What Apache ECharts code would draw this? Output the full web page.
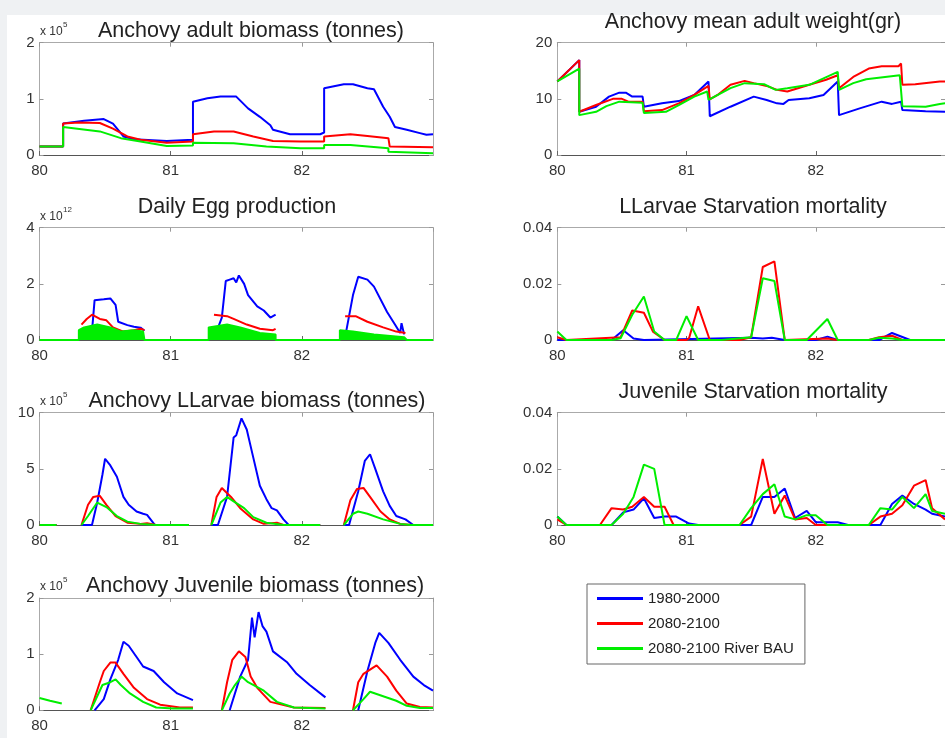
<!DOCTYPE html>
<html>
<head>
<meta charset="utf-8">
<script src="https://cdn.jsdelivr.net/npm/echarts@6/dist/echarts.min.js"></script>
<style>
  html, body { margin: 0; padding: 0; background: #eff1f3; }
  #chart { width: 945px; height: 738px; }
</style>
</head>
<body>
<div id="chart"></div>
<script>
// series names (legend)
const seriesNames = ["1980-2000", "2080-2100", "2080-2100 River BAU"];
const xTicks = [80, 81, 82, 83];

// Anchovy adult biomass (x 10^5 tonnes)
const adultBlue = [[80, 0.15], [80.18, 0.15], [80.18, 0.56], [80.34, 0.61], [80.49, 0.64], [80.56, 0.56], [80.64, 0.33], [80.72, 0.28], [80.97, 0.25], [81.17, 0.27], [81.17, 0.95], [81.28, 1.01], [81.38, 1.04], [81.50, 1.04], [81.59, 0.83], [81.68, 0.68], [81.76, 0.53], [81.78, 0.45], [81.91, 0.37], [82.14, 0.37], [82.17, 0.40], [82.17, 1.19], [82.32, 1.26], [82.39, 1.26], [82.50, 1.19], [82.55, 1.17], [82.62, 0.86], [82.67, 0.68], [82.71, 0.50], [82.80, 0.45], [82.90, 0.39], [82.95, 0.36], [83.0, 0.37]];
const adultRed = [[80, 0.15], [80.18, 0.15], [80.18, 0.56], [80.30, 0.58], [80.46, 0.57], [80.56, 0.47], [80.67, 0.33], [80.77, 0.27], [80.97, 0.22], [81.17, 0.24], [81.17, 0.37], [81.33, 0.42], [81.48, 0.42], [81.63, 0.33], [81.78, 0.25], [81.99, 0.24], [82.17, 0.24], [82.17, 0.33], [82.37, 0.37], [82.50, 0.34], [82.66, 0.30], [82.67, 0.15], [83.0, 0.14]];
const adultGreen = [[80, 0.15], [80.18, 0.15], [80.18, 0.50], [80.46, 0.42], [80.62, 0.30], [80.77, 0.24], [80.97, 0.16], [81.17, 0.17], [81.17, 0.22], [81.48, 0.21], [81.73, 0.15], [81.99, 0.12], [82.17, 0.12], [82.17, 0.18], [82.37, 0.18], [82.66, 0.12], [82.66, 0.06], [83.0, 0.03]];

// Anchovy mean adult weight (gr)
const weightBlue = [[80, 13.1], [80.17, 16.9], [80.17, 7.7], [80.30, 8.6], [80.40, 10.4], [80.48, 11.1], [80.53, 11.1], [80.58, 10.4], [80.66, 10.4], [80.67, 8.6], [80.81, 9.2], [80.94, 9.6], [81.06, 10.7], [81.17, 13.1], [81.18, 6.9], [81.34, 8.6], [81.52, 10.4], [81.62, 9.8], [81.70, 9.2], [81.75, 9.1], [81.79, 9.8], [81.95, 10.1], [82.06, 10.7], [82.17, 13.1], [82.18, 7.1], [82.34, 8.3], [82.51, 9.5], [82.59, 9.1], [82.66, 9.5], [82.67, 8.0], [82.85, 7.8], [83.0, 7.7]];
const weightRed = [[80, 13.1], [80.17, 16.9], [80.17, 7.7], [80.30, 8.9], [80.43, 10.0], [80.50, 10.0], [80.55, 9.5], [80.66, 9.5], [80.67, 7.8], [80.81, 8.0], [80.94, 9.2], [81.06, 10.7], [81.17, 12.3], [81.18, 9.9], [81.24, 10.7], [81.34, 12.5], [81.45, 13.2], [81.52, 12.8], [81.62, 12.3], [81.70, 11.6], [81.78, 11.3], [81.95, 12.5], [82.08, 13.4], [82.17, 14.2], [82.18, 11.9], [82.29, 13.9], [82.41, 15.4], [82.51, 15.8], [82.64, 15.8], [82.66, 16.3], [82.67, 12.5], [82.77, 12.6], [82.96, 13.1], [83.0, 13.1]];
const weightGreen = [[80, 13.1], [80.17, 15.4], [80.17, 7.1], [80.30, 7.7], [80.38, 8.7], [80.48, 9.5], [80.66, 9.3], [80.67, 7.5], [80.84, 7.7], [80.94, 8.9], [81.06, 10.4], [81.16, 11.3], [81.17, 9.8], [81.34, 11.9], [81.45, 12.8], [81.60, 12.6], [81.69, 11.6], [81.78, 11.9], [81.95, 12.5], [82.17, 14.8], [82.18, 11.6], [82.29, 12.8], [82.39, 13.5], [82.65, 14.2], [82.67, 8.7], [82.85, 8.6], [82.96, 9.1], [83.0, 9.2]];

// Daily Egg production (x 10^12)
const eggBlue = [[80.40, 0], [80.40, 0.3], [80.42, 1.42], [80.49, 1.45], [80.54, 1.48], [80.58, 1.25], [80.60, 0.65], [80.67, 0.53], [80.72, 0.47], [80.77, 0.44], [80.80, 0.33], null, [81.35, 0], [81.35, 0.3], [81.39, 0.8], [81.42, 2.1], [81.45, 2.15], [81.48, 2.2], [81.50, 2.05], [81.52, 2.3], [81.56, 2.0], [81.59, 1.6], [81.66, 1.2], [81.71, 1.05], [81.76, 0.8], [81.80, 0.9], null, [82.34, 0], [82.34, 0.35], [82.39, 1.6], [82.43, 2.25], [82.50, 2.15], [82.55, 1.9], [82.65, 1.0], [82.71, 0.55], [82.75, 0.25], [82.76, 0.6], [82.78, 0.2]];
const eggRed = [[80.32, 0.55], [80.36, 0.75], [80.40, 0.9], [80.46, 0.75], [80.51, 0.7], [80.56, 0.45], [80.64, 0.3], [80.72, 0.35], [80.77, 0.4], [80.80, 0.35], null, [81.33, 0.9], [81.43, 0.85], [81.48, 0.75], [81.58, 0.55], [81.68, 0.4], [81.78, 0.35], [81.80, 0.4], null, [82.33, 0.85], [82.41, 0.85], [82.50, 0.65], [82.62, 0.45], [82.72, 0.3], [82.79, 0.25]];
const eggGreen = [[80, 0], [80.30, 0], [80.30, 0.35], [80.34, 0.45], [80.44, 0.55], [80.54, 0.45], [80.62, 0.3], [80.72, 0.35], [80.79, 0.3], [80.80, 0], [81.29, 0], [81.29, 0.45], [81.43, 0.55], [81.53, 0.45], [81.68, 0.25], [81.80, 0.2], [81.80, 0], [82.29, 0], [82.29, 0.35], [82.39, 0.3], [82.55, 0.2], [82.78, 0.1], [82.80, 0], [83, 0]];

// LLarvae Starvation mortality
const llsBlue = [[80, 0], [80.42, 0], [80.51, 0.0035], [80.59, 0.0005], [80.67, 0], [81.50, 0.0008], [81.59, 0.0005], [81.66, 0.0008], [81.76, 0], [82.0, 0], [82.09, 0.0012], [82.17, 0], [82.49, 0], [82.59, 0.0025], [82.73, 0], [83, 0]];
const llsRed = [[80, 0.001], [80.07, 0], [80.49, 0.001], [80.58, 0.0105], [80.67, 0.0097], [80.74, 0.003], [80.83, 0], [81.0, 0], [81.02, 0.0007], [81.09, 0.012], [81.18, 0], [81.41, 0], [81.50, 0.001], [81.59, 0.026], [81.68, 0.028], [81.76, 0], [82.09, 0.0005], [82.17, 0], [82.41, 0], [82.49, 0.001], [82.59, 0.0015], [82.67, 0], [83, 0]];
const llsGreen = [[80, 0.003], [80.07, 0], [80.42, 0], [80.49, 0.0006], [80.58, 0.009], [80.67, 0.0155], [80.75, 0.003], [80.83, 0], [80.92, 0], [81.0, 0.0085], [81.09, 0], [81.27, 0], [81.50, 0.001], [81.59, 0.022], [81.68, 0.021], [81.76, 0], [81.93, 0], [82.09, 0.0075], [82.17, 0], [82.41, 0], [82.49, 0.0008], [82.59, 0.0005], [82.67, 0], [83, 0]];

// Anchovy LLarvae biomass (x 10^5 tonnes)
const llbBlue = [[80, 0], [80.13, 0], null, [80.32, 0], [80.40, 0], [80.44, 2.0], [80.48, 4.5], [80.50, 5.9], [80.54, 5.3], [80.59, 4.3], [80.64, 2.5], [80.68, 1.8], [80.74, 1.2], [80.79, 1.0], [80.82, 0.9], [80.86, 0.3], [80.88, 0], [81.14, 0], null, [81.31, 0], [81.36, 0], [81.43, 2.5], [81.48, 7.8], [81.50, 8.0], [81.54, 9.5], [81.58, 8.5], [81.63, 6.0], [81.68, 3.5], [81.73, 2.3], [81.77, 1.5], [81.81, 1.3], [81.86, 0.5], [81.90, 0], [82.14, 0], null, [82.32, 0], [82.36, 0], [82.43, 3.0], [82.48, 5.7], [82.52, 6.3], [82.56, 5.0], [82.62, 3.0], [82.67, 1.7], [82.72, 0.8], [82.79, 0.5], [82.85, 0], [83, 0]];
const llbRed = [[80, 0], [80.13, 0], null, [80.32, 0], [80.37, 1.8], [80.41, 2.5], [80.46, 2.6], [80.51, 1.8], [80.58, 0.8], [80.67, 0.2], [80.77, 0.1], [80.82, 0.15], [80.89, 0], [81.14, 0], null, [81.31, 0], [81.35, 2.5], [81.39, 3.3], [81.46, 2.5], [81.53, 1.5], [81.63, 0.5], [81.71, 0.1], [81.81, 0.2], [81.86, 0], [82.14, 0], null, [82.32, 0], [82.37, 2.2], [82.42, 3.2], [82.47, 3.3], [82.52, 2.5], [82.60, 1.2], [82.67, 0.5], [82.75, 0.1], [82.85, 0], [83, 0]];
const llbGreen = [[80, 0], [80.13, 0], null, [80.32, 0], [80.37, 0.8], [80.44, 2.0], [80.51, 1.6], [80.59, 0.8], [80.67, 0.3], [80.77, 0.1], [80.89, 0], [81.14, 0], null, [81.31, 0], [81.38, 2.0], [81.43, 2.5], [81.48, 2.1], [81.56, 1.5], [81.63, 0.7], [81.73, 0.2], [81.86, 0], [82.14, 0], null, [82.32, 0], [82.39, 1.0], [82.43, 1.2], [82.50, 1.0], [82.62, 0.5], [82.75, 0.1], [82.83, 0], [83, 0]];

// Juvenile Starvation mortality
const jsBlue = [[80, 0.003], [80.07, 0], [80.42, 0], [80.51, 0.0045], [80.59, 0.0055], [80.67, 0.0095], [80.75, 0.0025], [80.83, 0.003], [80.92, 0.003], [81.02, 0.0005], [81.09, 0], [81.50, 0], [81.59, 0.010], [81.68, 0.010], [81.76, 0.013], [81.84, 0.0025], [81.93, 0.005], [82.0, 0.001], [82.09, 0.001], [82.17, 0.001], [82.25, 0], [82.50, 0], [82.59, 0.0075], [82.67, 0.0105], [82.76, 0.0075], [82.85, 0.0055], [82.90, 0.004], [83, 0.003]];
const jsRed = [[80, 0.002], [80.07, 0], [80.33, 0], [80.42, 0.006], [80.51, 0.0055], [80.58, 0.0065], [80.67, 0.010], [80.75, 0.0065], [80.83, 0.0065], [80.90, 0], [81.41, 0], [81.50, 0.003], [81.59, 0.0235], [81.68, 0.004], [81.76, 0.0105], [81.84, 0.002], [81.93, 0.0025], [82.0, 0], [82.41, 0], [82.50, 0.003], [82.59, 0.004], [82.67, 0.007], [82.76, 0.014], [82.85, 0.016], [82.90, 0.006], [83, 0.002]];
const jsGreen = [[80, 0.003], [80.07, 0], [80.42, 0], [80.51, 0.004], [80.59, 0.010], [80.67, 0.0215], [80.75, 0.020], [80.83, 0], [81.41, 0], [81.50, 0.006], [81.59, 0.011], [81.68, 0.0145], [81.76, 0.003], [81.84, 0.002], [81.93, 0.0035], [82.0, 0.0035], [82.09, 0], [82.41, 0], [82.50, 0.006], [82.59, 0.0055], [82.67, 0.010], [82.76, 0.006], [82.85, 0.011], [82.90, 0.005], [83, 0.004]];

// Anchovy Juvenile biomass (x 10^5 tonnes)
const jbBlue = [[80.42, 0], [80.49, 0.2], [80.54, 0.55], [80.60, 0.9], [80.64, 1.22], [80.68, 1.15], [80.74, 0.95], [80.79, 0.78], [80.87, 0.7], [80.95, 0.5], [81.05, 0.3], [81.17, 0.18], null, [81.45, 0], [81.53, 0.6], [81.59, 0.9], [81.62, 1.65], [81.64, 1.3], [81.67, 1.75], [81.70, 1.5], [81.73, 1.4], [81.78, 1.05], [81.89, 0.85], [81.96, 0.65], [82.06, 0.45], [82.18, 0.23], null, [82.43, 0], [82.50, 0.7], [82.56, 1.2], [82.59, 1.38], [82.66, 1.2], [82.75, 0.9], [82.85, 0.6], [82.93, 0.45], [83.0, 0.35]];
const jbRed = [[80.39, 0], [80.46, 0.5], [80.49, 0.7], [80.54, 0.85], [80.58, 0.85], [80.64, 0.65], [80.72, 0.4], [80.82, 0.2], [80.92, 0.1], [81.07, 0.05], [81.17, 0.05], null, [81.39, 0], [81.43, 0.5], [81.47, 0.9], [81.52, 1.05], [81.57, 0.95], [81.61, 0.6], [81.66, 0.4], [81.76, 0.15], [81.94, 0.05], [82.18, 0.04], null, [82.39, 0], [82.43, 0.5], [82.47, 0.65], [82.57, 0.8], [82.65, 0.6], [82.72, 0.35], [82.80, 0.12], [82.90, 0.06], [83.0, 0.05]];
const jbGreen = [[80, 0.22], [80.08, 0.17], [80.17, 0.12], null, [80.39, 0], [80.44, 0.25], [80.48, 0.45], [80.54, 0.5], [80.58, 0.55], [80.62, 0.45], [80.69, 0.3], [80.79, 0.15], [80.89, 0.05], [81.02, 0.03], [81.17, 0.03], null, [81.39, 0], [81.45, 0.3], [81.49, 0.45], [81.54, 0.6], [81.59, 0.5], [81.71, 0.35], [81.81, 0.15], [81.94, 0.05], [82.18, 0.03], null, [82.39, 0], [82.47, 0.2], [82.52, 0.33], [82.62, 0.25], [82.72, 0.17], [82.80, 0.08], [82.90, 0.04], [83.0, 0.04]];

const colors = ["#0000ff", "#ff0000", "#00ee00"];
const font = "Liberation Sans";

// layout of the subplots
const colLeft = [39.5, 557.3];
const rowTop = [42.7, 227.7, 412.7, 598];
const plotW = 393.5;
const plotH = 112.3;

const panels = [
    { title: "Anchovy adult biomass (tonnes)", col: 0, row: 0, max: 2, step: 1, exp: "5", titleX: 251, titleTop: 20, lines: [adultBlue, adultRed, adultGreen] },
    { title: "Anchovy mean adult weight(gr)", col: 1, row: 0, max: 20, step: 10, titleX: 753, titleTop: 11, lines: [weightBlue, weightRed, weightGreen] },
    { title: "Daily Egg production", col: 0, row: 1, max: 4, step: 2, exp: "12", titleX: 237, titleTop: 196, area: true, lines: [eggBlue, eggRed, eggGreen] },
    { title: "LLarvae Starvation mortality", col: 1, row: 1, max: 0.04, step: 0.02, titleX: 753, titleTop: 196, lines: [llsBlue, llsRed, llsGreen] },
    { title: "Anchovy LLarvae biomass (tonnes)", col: 0, row: 2, max: 10, step: 5, exp: "5", titleX: 257, titleTop: 390, lines: [llbBlue, llbRed, llbGreen] },
    { title: "Juvenile Starvation mortality", col: 1, row: 2, max: 0.04, step: 0.02, titleX: 753, titleTop: 381, lines: [jsBlue, jsRed, jsGreen] },
    { title: "Anchovy Juvenile biomass (tonnes)", col: 0, row: 3, max: 2, step: 1, exp: "5", titleX: 255, titleTop: 575, lines: [jbBlue, jbRed, jbGreen] },
];

const toData = arr => arr.map(p => (p === null ? ["-", "-"] : p));

const grid = [], xAxis = [], yAxis = [], series = [], title = [];
const graphic = [
    { type: "rect", left: 7, top: 15, z: -10, shape: { width: 940, height: 725 }, style: { fill: "#ffffff" } },
];

panels.forEach((p, i) => {
    const top = rowTop[p.row];
    grid.push({ left: colLeft[p.col], top: top, width: plotW, height: plotH });

    title.push({
        text: p.title,
        left: p.titleX,
        top: p.titleTop,
        padding: 0,
        textAlign: "center",
        textStyle: { fontFamily: font, fontSize: 21.5, fontWeight: "normal", color: "#222" },
    });

    // bottom and top x axes (matlab box with inner ticks)
    xAxis.push({
        gridIndex: i, type: "value", min: xTicks[0], max: xTicks[xTicks.length - 1], interval: 1,
        position: "bottom",
        axisLine: { onZero: false, lineStyle: { color: "#555", width: 1.2 } },
        axisTick: { inside: true, length: 4, lineStyle: { color: "#666" } },
        axisLabel: { margin: 8, fontFamily: font, fontSize: 15, color: "#333", showMaxLabel: false },
        splitLine: { show: false },
    });
    xAxis.push({
        gridIndex: i, type: "value", min: xTicks[0], max: xTicks[xTicks.length - 1], interval: 1,
        position: "top",
        axisLine: { onZero: false, lineStyle: { color: "#aaa" } },
        axisTick: { inside: true, length: 4, lineStyle: { color: "#999" } },
        axisLabel: { show: false },
        splitLine: { show: false },
    });
    yAxis.push({
        gridIndex: i, type: "value", min: 0, max: p.max, interval: p.step,
        position: "left",
        axisLine: { show: true, onZero: false, lineStyle: { color: "#aaa" } },
        axisTick: { show: true, inside: true, length: 4, lineStyle: { color: "#999" } },
        axisLabel: { margin: 5, fontFamily: font, fontSize: 15, color: "#333" },
        splitLine: { show: false },
    });
    yAxis.push({
        gridIndex: i, type: "value", min: 0, max: p.max, interval: p.step,
        position: "right",
        axisLine: { show: true, onZero: false, lineStyle: { color: "#aaa" } },
        axisTick: { show: true, inside: true, length: 4, lineStyle: { color: "#999" } },
        axisLabel: { show: false },
        splitLine: { show: false },
    });

    p.lines.forEach((arr, k) => {
        const s = {
            name: seriesNames[k],
            type: "line",
            xAxisIndex: i * 2,
            yAxisIndex: i * 2,
            data: toData(arr),
            showSymbol: false,
            symbol: "none",
            color: colors[k],
            lineStyle: { color: colors[k], width: 2 },
            z: 2 + k,
        };
        if (p.area && k === 2) {
            s.areaStyle = { color: colors[k], opacity: 1 };
        }
        series.push(s);
    });

    // "x 10^n" multiplier above the y axis
    if (p.exp) {
        graphic.push({
            type: "text", left: 40, top: top - 17,
            style: { text: "x 10", fontFamily: font, fontSize: 12, fill: "#333" },
        });
        graphic.push({
            type: "text", left: 63, top: top - 22,
            style: { text: p.exp, fontFamily: font, fontSize: 8, fill: "#333" },
        });
    }
});

const chartDom = document.getElementById("chart");
const myChart = echarts.init(chartDom);

const option = {
    animation: false,
    backgroundColor: "#eff1f3",
    title: title,
    legend: {
        data: seriesNames,
        orient: "vertical",
        left: 587,
        top: 584,
        padding: [7, 11, 8, 10],
        itemGap: 10,
        itemWidth: 46,
        itemHeight: 3,
        icon: "rect",
        backgroundColor: "#fff",
        borderColor: "#666",
        borderWidth: 1,
        borderRadius: 0,
        textStyle: { fontFamily: font, fontSize: 15, color: "#222" },
    },
    graphic: graphic,
    grid: grid,
    xAxis: xAxis,
    yAxis: yAxis,
    series: series,
};

myChart.setOption(option);
</script>
</body>
</html>
